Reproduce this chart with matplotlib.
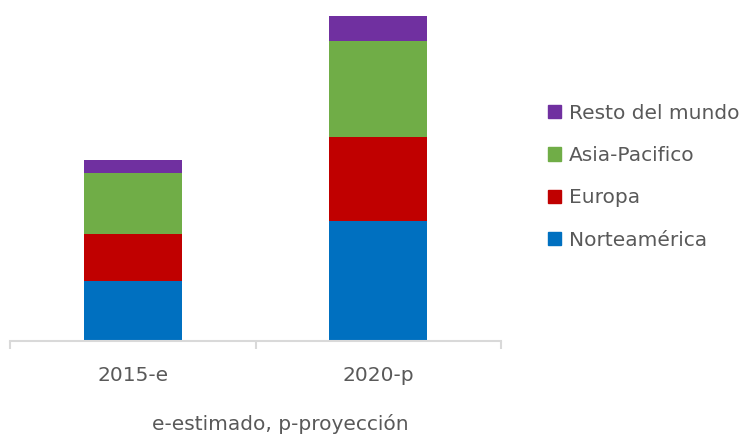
import matplotlib
matplotlib.use("Agg")
import matplotlib.pyplot as plt
from matplotlib.patches import Patch

# stacked regional totals per period
periodos = ["2015-e", "2020-p"]
norteamerica = [6.0, 12.0]
europa = [4.7, 8.4]
asia_pacifico = [6.1, 9.6]
resto = [1.3, 2.5]

series = [
    ("Norteamérica", norteamerica, "#0070C0"),
    ("Europa", europa, "#C00000"),
    ("Asia-Pacifico", asia_pacifico, "#70AD47"),
    ("Resto del mundo", resto, "#7030A0"),
]

plt.rcParams["font.family"] = ["DejaVu Sans"]
gris = "#595959"

fig = plt.figure(figsize=(7.49, 4.42), dpi=100)
ax = fig.add_axes([0.014, 0.2285, 0.655, 0.736])

x = list(range(len(periodos)))
base = [0.0] * len(periodos)
for nombre, vals, color in series:
    ax.bar(x, vals, width=0.4, bottom=base, color=color, label=nombre)
    base = [b + v for b, v in zip(base, vals)]

ax.set_xlim(-0.5, 1.5)
ax.set_ylim(0, 32.5)

for s in ["top", "right", "left"]:
    ax.spines[s].set_visible(False)
ax.spines["bottom"].set_color("#D9D9D9")
ax.spines["bottom"].set_linewidth(1.5)
ax.set_yticks([])

ax.set_xticks(x)
ax.set_xticklabels(periodos, fontsize=14.5, color=gris)
ax.tick_params(axis="x", which="major", length=0, pad=18)
ax.set_xticks([-0.5, 0.5, 1.5], minor=True)
ax.tick_params(axis="x", which="minor", length=6, width=1.5, color="#D9D9D9")

handles = [Patch(color=c, label=n) for n, _, c in series][::-1]
fig.legend(handles=handles, loc="center left", bbox_to_anchor=(0.731, 0.6),
           frameon=False, fontsize=14.5, labelcolor=gris, borderpad=0,
           borderaxespad=0, handlelength=0.65, handleheight=0.65,
           handletextpad=0.4, labelspacing=1.16)

fig.text(0.3745, 0.027, "e-estimado, p-proyección", ha="center", va="baseline",
         fontsize=14.5, color=gris)

fig.savefig("out.png", dpi=100)
